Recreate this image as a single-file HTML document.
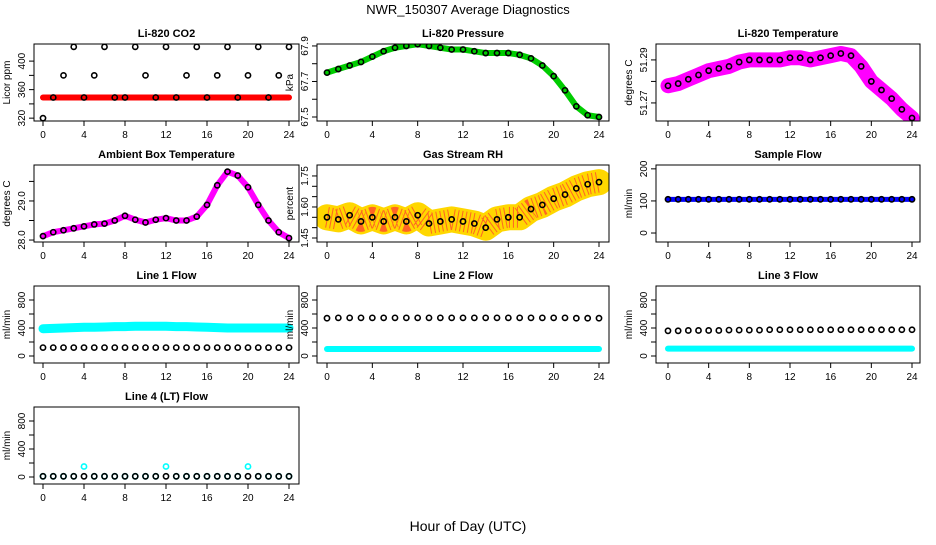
<!DOCTYPE html>
<html><head><meta charset="utf-8"><style>
body{margin:0;background:#fff}
svg text{font-family:"Liberation Sans",sans-serif}
</style></head><body>
<svg id="c" width="936" height="540" xmlns="http://www.w3.org/2000/svg">
<text x="468" y="14" text-anchor="middle" font-size="13">NWR_150307  Average Diagnostics</text>
<text x="468" y="531" text-anchor="middle" font-size="14">Hour of Day (UTC)</text>
</svg>
<script>
const hours=[0,1,2,3,4,5,6,7,8,9,10,11,12,13,14,15,16,17,18,19,20,21,22,23,24];
const xTicks=[0,4,8,12,16,20,24];
const co2Dense=[349,349,349,349,349,349,349,349,349,349,349,349,349,349,349,349,349,349,349,349,349,349,349,349,349];
const co2Black=[320,349,380,420,349,380,420,349,349,420,380,349,420,349,380,420,349,380,420,349,380,420,349,380,420];
const pressure=[67.75,67.77,67.79,67.81,67.84,67.87,67.89,67.9,67.91,67.9,67.89,67.88,67.88,67.87,67.86,67.86,67.86,67.85,67.83,67.79,67.73,67.65,67.56,67.51,67.5];
const liTemp=[51.278,51.279,51.281,51.283,51.285,51.286,51.287,51.289,51.29,51.29,51.29,51.29,51.291,51.291,51.29,51.291,51.292,51.293,51.292,51.287,51.28,51.276,51.272,51.267,51.263];
const ambient=[28.1,28.2,28.25,28.3,28.35,28.4,28.42,28.5,28.62,28.52,28.45,28.52,28.56,28.5,28.5,28.6,28.9,29.4,29.75,29.65,29.35,28.9,28.5,28.2,28.05];
const rh=[1.55,1.54,1.56,1.53,1.55,1.53,1.55,1.53,1.56,1.52,1.53,1.54,1.53,1.52,1.50,1.54,1.55,1.55,1.59,1.61,1.64,1.66,1.69,1.71,1.72];
const sampleFlow=[105,105,105,105,105,105,105,105,105,105,105,105,105,105,105,105,105,105,105,105,105,105,105,105,105];
const line1Cyan=[390,395,400,405,410,410,415,420,420,425,425,425,425,420,420,415,410,405,400,400,400,400,400,400,400];
const line1Black=[120,120,120,120,120,120,120,120,120,120,120,120,120,120,120,120,120,120,120,120,120,120,120,120,120];
const line2Black=[540,545,545,545,545,545,545,545,545,545,545,545,545,545,545,545,545,545,545,545,545,545,540,540,540];
const line2Cyan=[100,100,100,100,100,100,100,100,100,100,100,100,100,100,100,100,100,100,100,100,100,100,100,100,100];
const line3Black=[360,360,365,365,365,365,370,370,370,370,375,375,375,375,375,375,375,375,375,375,375,375,375,375,375];
const line3Cyan=[105,105,105,105,105,105,105,105,105,105,105,105,105,105,105,105,105,105,105,105,105,105,105,105,105];
const line4Black=[10,10,10,10,10,10,10,10,10,10,10,10,10,10,10,10,10,10,10,10,10,10,10,10,10];
const line4Cyan=[10,10,10,10,150,10,10,10,10,10,10,10,150,10,10,10,10,10,10,10,150,10,10,10,10];
const flowTicks=[0,200,400,600,800];
const flowLabels=[0,"","400","","800"];

const svg=document.getElementById('c');
const NS='http://www.w3.org/2000/svg';
function mk(tag,at,parent){const e=document.createElementNS(NS,tag);for(const k in at)e.setAttribute(k,at[k]);(parent||svg).appendChild(e);return e;}
const cols=[{l:34,r:299,x0:43,x24:289},{l:317,r:609,x0:327,x24:599},{l:656,r:920,x0:668,x24:912}];
const rows=[{t:44,b:121},{t:165,b:242},{t:286,b:363},{t:407,b:484}];

function panel(ci,ri,name,title,ylab,ydom,yt,yl,series){
  const c=cols[ci],r=rows[ri];
  const g=mk('g',{});
  
  
  const sx=h=>c.x0+(h/24)*(c.x24-c.x0);
  const sy=v=>r.b-(v-ydom[0])/(ydom[1]-ydom[0])*(r.b-r.t);
  const cp='cp'+ci+ri;
  const cl=mk('clipPath',{id:cp},g);mk('rect',{x:c.l,y:r.t,width:c.r-c.l,height:r.b-r.t},cl);
  const pg=mk('g',{'clip-path':'url(#'+cp+')'},g);
  series.forEach(s=>{
    if(s.type==='band'){
      const pts=hours.map((h,i)=>sx(h)+','+sy(s.data[i])).join(' ');
      const pl=mk('polyline',{points:pts,fill:'none',stroke:s.color,'stroke-width':s.w,'stroke-linejoin':'round','stroke-linecap':'round'},pg);
      
      
      if(s.inner){const p2=mk('polyline',{points:pts,fill:'none',stroke:s.inner,'stroke-width':s.w*0.8,'stroke-dasharray':'1 3','stroke-linejoin':'round',opacity:0.7},pg);
        
        }
    }else{
      hours.forEach((h,i)=>{
        const e=mk('circle',{cx:sx(h),cy:sy(s.data[i]),r:2.6,fill:'none',stroke:s.color,'stroke-width':1.6},pg);
        
        
      });
    }
  });
  const box=mk('rect',{x:c.l,y:r.t,width:c.r-c.l,height:r.b-r.t,fill:'none',stroke:'#000','stroke-width':1},g);
  
  
  const t=mk('text',{x:(c.l+c.r)/2,y:r.t-7,'text-anchor':'middle','font-size':11,'font-weight':'bold'},g);t.textContent=title;
  
  
  mk('line',{x1:sx(0),x2:sx(24),y1:r.b,y2:r.b,stroke:'#000'},g);
  xTicks.forEach(v=>{mk('line',{x1:sx(v),x2:sx(v),y1:r.b,y2:r.b+5,stroke:'#000'},g);
    const tx=mk('text',{x:sx(v),y:r.b+17,'text-anchor':'middle','font-size':10},g);tx.textContent=v;
    
    });
  mk('line',{x1:c.l,x2:c.l,y1:sy(yt[0]),y2:sy(yt[yt.length-1]),stroke:'#000'},g);
  yt.forEach((v,i)=>{mk('line',{x1:c.l-5,x2:c.l,y1:sy(v),y2:sy(v),stroke:'#000'},g);
    if(yl[i]!==""){const X=c.l-9,Y=sy(v);
      const ty=mk('text',{x:X,y:Y,'text-anchor':'middle','font-size':10,transform:`rotate(-90 ${X} ${Y})`},g);ty.textContent=yl[i];
      
      }});
  const X=c.l-24,Y=(r.t+r.b)/2;
  const yt2=mk('text',{x:X,y:Y,'text-anchor':'middle','font-size':10,transform:`rotate(-90 ${X} ${Y})`},g);yt2.textContent=ylab;
  
  
}
panel(0,0,'co2-panel','Li-820 CO2','Licor ppm',[316,424],[320,340,360,380,400],['320','','360','','400'],
 [{type:'band',data:co2Dense,color:'#f00',w:6,name:'co2-red'},{type:'pts',data:co2Black,color:'#000',name:'co2-black'}]);
panel(1,0,'pressure-panel','Li-820 Pressure','kPa',[67.4775,67.911],[67.5,67.6,67.7,67.8,67.9],['67.5','','67.7','','67.9'],
 [{type:'band',data:pressure,color:'#0c0',w:6,name:'pressure-green'},{type:'pts',data:pressure,color:'#000',name:'pressure-black'}]);
panel(2,0,'li-temp-panel','Li-820 Temperature','degrees C',[51.2616,51.2974],[51.27,51.28,51.29],['51.27','','51.29'],
 [{type:'band',data:liTemp,color:'#f0f',w:15,name:'litemp-magenta'},{type:'pts',data:liTemp,color:'#000',name:'litemp-black'}]);
panel(0,1,'ambient-panel','Ambient Box Temperature','degrees C',[27.95,29.92],[28.0,28.5,29.0,29.5],['28.0','','29.0',''],
 [{type:'band',data:ambient,color:'#f0f',w:6,name:'ambient-magenta'},{type:'pts',data:ambient,color:'#000',name:'ambient-black'}]);
panel(1,1,'rh-panel','Gas Stream RH','percent',[1.4306,1.803],[1.45,1.5,1.55,1.6,1.65,1.7,1.75],['1.45','','','1.60','','','1.75'],
 [{type:'band',data:rh,color:'#ffd700',w:26,inner:'#f33',name:'rh-yellow'},{type:'pts',data:rh,color:'#000',name:'rh-black'}]);
panel(2,1,'sample-flow-panel','Sample Flow','ml/min',[-28,212],[0,100,200],['0','100','200'],
 [{type:'band',data:sampleFlow,color:'#00f',w:5,name:'sample-blue'},{type:'pts',data:sampleFlow,color:'#000',name:'sample-black'}]);
panel(0,2,'line1-panel','Line 1 Flow','ml/min',[-100,1000],flowTicks,flowLabels,
 [{type:'band',data:line1Cyan,color:'#0ff',w:9,name:'line1-cyan'},{type:'pts',data:line1Black,color:'#000',name:'line1-black'}]);
panel(1,2,'line2-panel','Line 2 Flow','ml/min',[-100,1000],flowTicks,flowLabels,
 [{type:'band',data:line2Cyan,color:'#0ff',w:6,name:'line2-cyan'},{type:'pts',data:line2Black,color:'#000',name:'line2-black'}]);
panel(2,2,'line3-panel','Line 3 Flow','ml/min',[-100,1000],flowTicks,flowLabels,
 [{type:'band',data:line3Cyan,color:'#0ff',w:6,name:'line3-cyan'},{type:'pts',data:line3Black,color:'#000',name:'line3-black'}]);
panel(0,3,'line4-panel','Line 4 (LT) Flow','ml/min',[-100,1000],flowTicks,flowLabels,
 [{type:'pts',data:line4Cyan,color:'#0ff',name:'line4-cyan'},{type:'pts',data:line4Black,color:'#000',name:'line4-black'}]);
</script>
</body></html>
